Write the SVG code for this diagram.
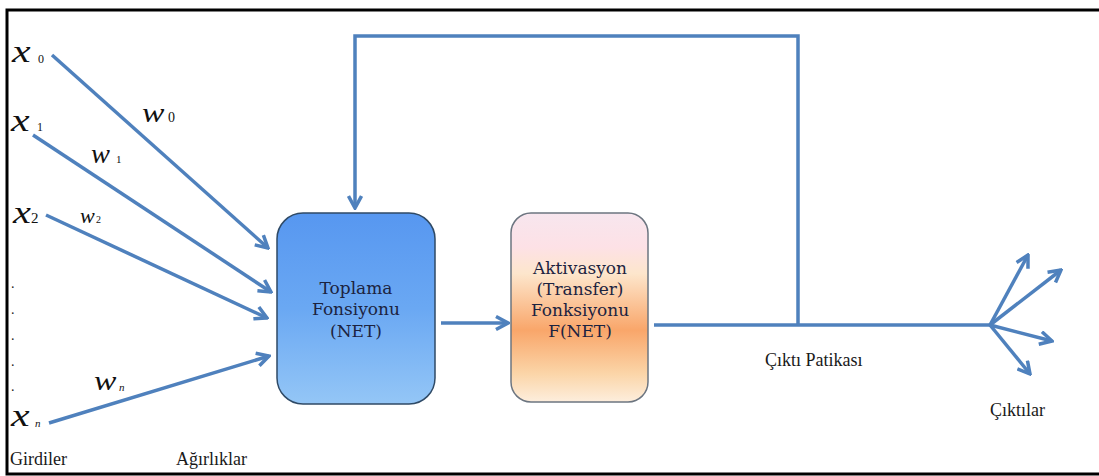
<svg xmlns="http://www.w3.org/2000/svg" width="1099" height="476" viewBox="0 0 1099 476">
  <style>
    text { font-family: "Liberation Serif", "Times New Roman", serif; }
    .wire { fill: none; stroke: #4f81bd; stroke-width: 3.5; }
    .lbl { font-size: 18px; fill: #1a1a1a; }
    .box-text { font-family: "DejaVu Serif", serif; font-size: 17px; fill: #1c2340; text-anchor: middle; }
    .var { font-style: italic; fill: #111; }
    .sub { fill: #111; }
    .dot { font-size: 14px; fill: #222; }
  </style>
  <defs>
    <marker id="head" viewBox="0 0 16 16" refX="14" refY="8" markerWidth="16" markerHeight="16" markerUnits="userSpaceOnUse" orient="auto">
      <path d="M2,1.5 L14,8 L2,14.5" fill="none" stroke="#4f81bd" stroke-width="3.5" stroke-linejoin="miter"/>
    </marker>
    <linearGradient id="sumFill" x1="0" y1="0" x2="0" y2="1">
      <stop offset="0" stop-color="#5797f0"/>
      <stop offset="0.5" stop-color="#6aa8f3"/>
      <stop offset="1" stop-color="#94c6f6"/>
    </linearGradient>
    <linearGradient id="actFill" x1="0" y1="0" x2="0" y2="1">
      <stop offset="0" stop-color="#f7e6ee"/>
      <stop offset="0.18" stop-color="#fde1e6"/>
      <stop offset="0.32" stop-color="#fde6cc"/>
      <stop offset="0.62" stop-color="#f9a66a"/>
      <stop offset="0.85" stop-color="#fbd5a8"/>
      <stop offset="1" stop-color="#fdeedd"/>
    </linearGradient>
  </defs>

  <!-- frame -->
  <path d="M1099,10 H7 V474 H1099" fill="none" stroke="#000" stroke-width="3"/>

  <!-- connectors -->
  <g id="connectors">
    <line class="wire" x1="52" y1="55" x2="268" y2="248" marker-end="url(#head)"/>
    <line class="wire" x1="33" y1="135" x2="271" y2="292" marker-end="url(#head)"/>
    <line class="wire" x1="46" y1="215" x2="267" y2="318" marker-end="url(#head)"/>
    <line class="wire" x1="49" y1="423" x2="269" y2="356" marker-end="url(#head)"/>
    <line class="wire" x1="441" y1="323" x2="508" y2="323" marker-end="url(#head)"/>
    <polyline class="wire" points="798,325 798,36 355,36 355,208" marker-end="url(#head)"/>
    <line class="wire" x1="654" y1="325" x2="990" y2="325"/>
    <line class="wire" x1="990" y1="325" x2="1028" y2="255" marker-end="url(#head)"/>
    <line class="wire" x1="990" y1="325" x2="1061" y2="270" marker-end="url(#head)"/>
    <line class="wire" x1="990" y1="325" x2="1052" y2="341" marker-end="url(#head)"/>
    <line class="wire" x1="990" y1="325" x2="1030" y2="374" marker-end="url(#head)"/>
  </g>

  <!-- summation node -->
  <g id="sum-node">
    <rect x="277" y="213" width="158" height="191" rx="26" ry="26" fill="url(#sumFill)" stroke="#2f4a66" stroke-width="1.5"/>
    <text class="box-text" x="356" y="294">Toplama</text>
    <text class="box-text" x="356" y="315">Fonsiyonu</text>
    <text class="box-text" x="356" y="337">(NET)</text>
  </g>

  <!-- activation node -->
  <g id="activation-node">
    <rect x="511" y="213" width="137" height="189" rx="20" ry="20" fill="url(#actFill)" stroke="#6c7580" stroke-width="1.5"/>
    <text class="box-text" x="580" y="274">Aktivasyon</text>
    <text class="box-text" x="580" y="295">(Transfer)</text>
    <text class="box-text" x="580" y="316">Fonksiyonu</text>
    <text class="box-text" x="580" y="337">F(NET)</text>
  </g>

  <!-- inputs -->
  <g id="inputs">
    <text class="var" transform="translate(12,62) scale(1.35,1)" font-size="31">x</text>
    <text class="sub" x="38" y="63" font-size="12">0</text>
    <text class="var" transform="translate(11,131) scale(1.35,1)" font-size="31">x</text>
    <text class="sub" x="37" y="131" font-size="12">1</text>
    <text class="var" transform="translate(13,223) scale(1.3,1)" font-size="31">x</text>
    <text class="sub" x="31" y="223" font-size="15">2</text>
    <text class="dot" x="11" y="288">.</text>
    <text class="dot" x="11" y="314">.</text>
    <text class="dot" x="11" y="340">.</text>
    <text class="dot" x="11" y="366">.</text>
    <text class="dot" x="11" y="391">.</text>
    <text class="var" transform="translate(11,426) scale(1.35,1)" font-size="31">x</text>
    <text class="sub" x="35" y="427" font-size="11" font-style="italic">n</text>
  </g>

  <!-- weights -->
  <g id="weights">
    <text class="var" transform="translate(142,122) scale(1.2,1)" font-size="28">w</text>
    <text class="sub" x="168" y="122" font-size="14">0</text>
    <text class="var" transform="translate(91,163) scale(1.05,1)" font-size="27">w</text>
    <text class="sub" x="116" y="163" font-size="11">1</text>
    <text class="var" transform="translate(80,223) scale(1.05,1)" font-size="21">w</text>
    <text class="sub" x="96" y="223" font-size="10">2</text>
    <text class="var" transform="translate(94,390) scale(1.2,1)" font-size="28">w</text>
    <text class="sub" x="119" y="391" font-size="11" font-style="italic">n</text>
  </g>

  <!-- captions -->
  <g id="captions">
    <text class="lbl" x="10" y="465">Girdiler</text>
    <text class="lbl" x="176" y="465">Ağırlıklar</text>
    <text class="lbl" x="765" y="366">Çıktı Patikası</text>
    <text class="lbl" x="990" y="416">Çıktılar</text>
  </g>
</svg>
